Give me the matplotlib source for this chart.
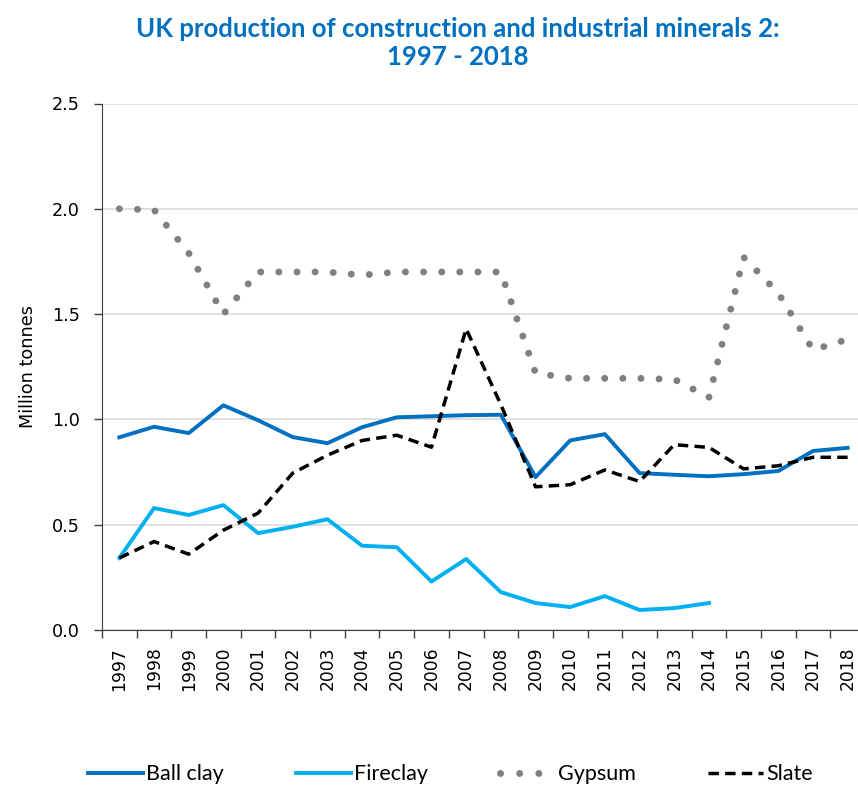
import matplotlib
matplotlib.use("agg")
import matplotlib.pyplot as plt
from matplotlib.lines import Line2D
import numpy as np

plt.rcParams['font.family'] = ['DejaVu Sans']

years = [str(y) for y in range(1997, 2019)]

# production, million tonnes
ball_clay = [0.915, 0.965, 0.935, 1.067, 0.996, 0.916, 0.887, 0.963, 1.01, 1.015, 1.02,
             1.022, 0.726, 0.90, 0.93, 0.745, 0.737, 0.73, 0.74, 0.755, 0.85, 0.865]
fireclay = [0.342, 0.579, 0.546, 0.593, 0.46, 0.49, 0.526, 0.40, 0.393, 0.23, 0.337,
            0.18, 0.128, 0.109, 0.161, 0.095, 0.104, 0.128]
gypsum = [2.0, 1.995, 1.79, 1.50, 1.70, 1.70, 1.70, 1.685, 1.70, 1.70, 1.70,
          1.70, 1.22, 1.195, 1.195, 1.195, 1.19, 1.105, 1.77, 1.60, 1.33, 1.38]
slate = [0.342, 0.42, 0.36, 0.474, 0.555, 0.745, 0.83, 0.90, 0.925, 0.868, 1.43,
         1.07, 0.68, 0.69, 0.76, 0.705, 0.88, 0.867, 0.765, 0.78, 0.82, 0.82]

c_ball = '#0070C0'
c_fire = '#00B0F0'
c_gyp = '#808080'
c_slate = 'black'
head_font = ['Lato', 'DejaVu Sans']

fig = plt.figure(figsize=(8.58, 7.87), dpi=100)
ax = fig.add_axes([102 / 858, 157 / 787, 763 / 858, 526.5 / 787])

x = np.arange(len(years))
ax.plot(x, gypsum, color=c_gyp, lw=5, linestyle=(0, (0.01, 2.6)),
        dash_capstyle='round', zorder=3)
ax.plot(x, ball_clay, color=c_ball, lw=2.8, zorder=4, solid_joinstyle='round')
ax.plot(x[:len(fireclay)], fireclay, color=c_fire, lw=2.8, zorder=4, solid_joinstyle='round')
ax.plot(x, slate, color=c_slate, lw=2.5, linestyle=(0, (3.0, 1.8)), zorder=5)

ax.set_xlim(-0.5, len(years) - 0.5)
ax.set_ylim(0, 2.5)
ax.set_yticks(np.arange(0, 2.51, 0.5))
ax.set_yticklabels(['%.1f' % v for v in np.arange(0, 2.51, 0.5)], fontsize=12.7)
ax.yaxis.grid(True, color='#d9d9d9', lw=1.2)
ax.set_axisbelow(True)

# labels at the category centres, tick marks between them
ax.set_xticks(np.arange(-0.5, len(years)), minor=False)
ax.set_xticklabels([])
ax.set_xticks(x, minor=True)
ax.set_xticklabels(years, minor=True, rotation=90, fontsize=12.3)
ax.tick_params(axis='x', which='minor', length=0, pad=12)
ax.tick_params(axis='x', which='major', length=6, width=1, color='#404040')
ax.tick_params(axis='y', length=6, width=1, color='#404040', pad=10)

for s in ['top', 'right']:
    ax.spines[s].set_visible(False)
ax.spines['left'].set_color('#404040')
ax.spines['bottom'].set_color('#404040')

ax.set_ylabel('Million tonnes', fontsize=12.7, labelpad=11)

fig.text(0.533, 0.978, 'UK production of construction and industrial minerals 2:\n1997 - 2018',
         ha='center', va='top', fontsize=18.5, fontweight='bold', color=c_ball,
         linespacing=1.2, family=head_font)

handles = [
    Line2D([], [], color=c_ball, lw=2.8),
    Line2D([], [], color=c_fire, lw=2.8),
    Line2D([], [], color=c_gyp, lw=5, linestyle=(0, (0.01, 2.75)), dash_capstyle='round'),
    Line2D([], [], color=c_slate, lw=2.5, linestyle=(0, (3.0, 1.8))),
]
fig.legend(handles, ['Ball clay', 'Fireclay', 'Gypsum', 'Slate'], loc='center',
           bbox_to_anchor=(0.525, 0.016), ncol=4, frameon=False,
           prop={'family': head_font, 'size': 15.5},
           handlelength=2.55, handletextpad=0.15, columnspacing=3.35)

fig.savefig('out.png', dpi=100)
